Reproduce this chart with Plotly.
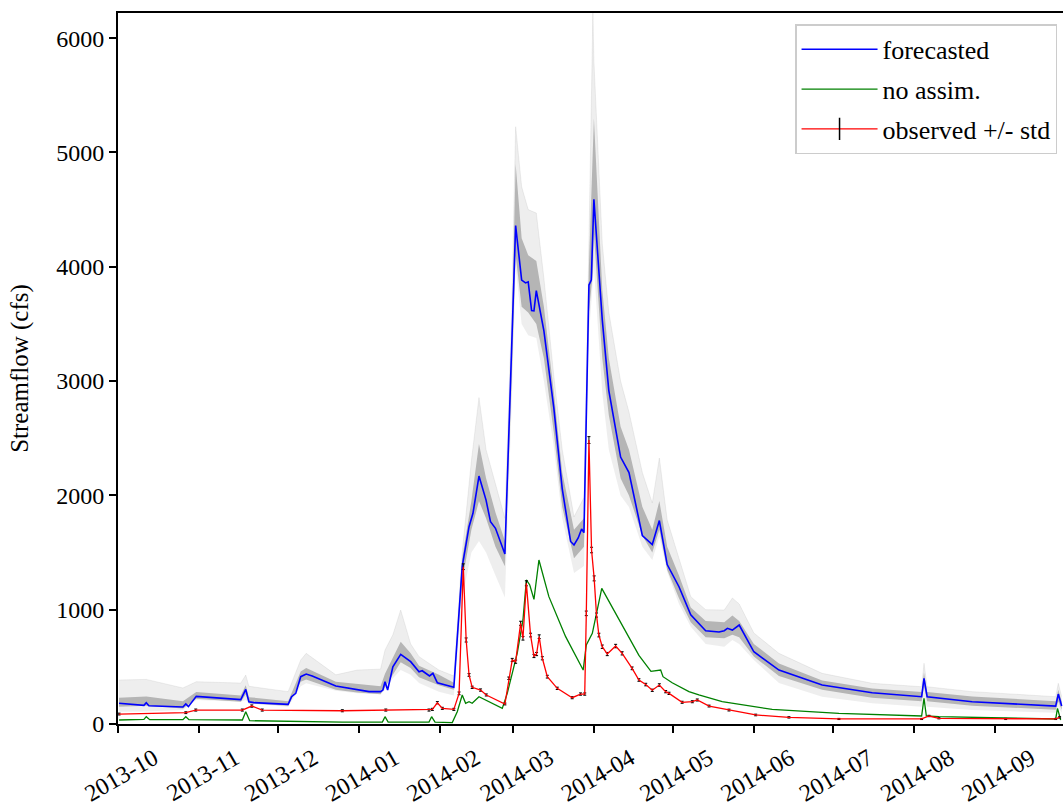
import pandas as pd
import plotly.graph_objects as go

START = pd.Timestamp("2013-10-01")

# ---- data (days after 2013-10-01, streamflow in cfs) ----
forecast_day = [0.4, 9.9, 10.8, 11.8, 24.8, 25.9, 26.9, 29.9, 46.9, 48.8, 50.0, 51.9, 65.0, 66.3, 67.9, 69.8,
                71.9, 74.2, 83.2, 91.4, 95.9, 100.3, 101.2, 102.0, 103.0, 105.0, 108.0, 111.8, 115.0, 116.2,
                117.5, 119.0, 120.3, 122.0, 128.3, 131.5, 134.1, 135.6, 137.9, 140.6, 142.3, 144.2, 147.8,
                150.4, 151.9, 154.2, 155.7, 156.7, 158.0, 158.9, 159.8, 162.7, 166.5, 169.7, 172.9, 174.2,
                175.8, 177.1, 178.0, 179.9, 180.8, 181.8, 185.0, 187.5, 192.0, 195.2, 200.3, 204.1, 206.8,
                209.8, 214.3, 218.8, 224.5, 229.6, 231.6, 232.8, 234.7, 237.3, 242.9, 252.5, 269.0, 288.1,
                307.0, 307.9, 309.1, 326.3, 358.2, 359.2, 360.5]
forecast_cfs = [181, 163, 186, 160, 149, 175, 152, 242, 213, 303, 195, 187, 172, 239, 268, 414,
                437, 420, 332, 303, 283, 283, 297, 370, 297, 501, 609, 545, 457, 466,
                443, 420, 443, 360, 321, 1380, 1726, 1843, 2169, 1959, 1770, 1712, 1487,
                3224, 4360, 3884, 3859, 3868, 3617, 3614, 3792, 3439, 2764, 2057, 1597, 1566,
                1628, 1706, 1674, 3840, 3884, 4590, 3534, 2917, 2335, 2200, 1649, 1570, 1780,
                1395, 1201, 955, 815, 805, 816, 837, 822, 866, 632, 472, 341, 274,
                239, 400, 239, 195, 157, 262, 157]

noassim_day = [0.4, 9.9, 10.8, 12.1, 24.8, 25.9, 27.1, 47.5, 48.8, 50.3, 85.7, 101.0, 102.0, 103.2, 118.8,
               119.8, 121.1, 127.7, 129.6, 131.5, 132.8, 134.1, 135.3, 137.9, 146.8, 148.7, 152.5, 154.7,
               156.0, 157.3, 158.9, 160.8, 164.6, 171.0, 176.7, 177.7, 178.9, 181.2, 184.8, 190.1, 196.4,
               199.0, 203.6, 207.3, 208.2, 211.7, 218.1, 221.9, 230.8, 249.9, 275.4, 307.0, 307.9, 308.8,
               313.6, 358.2, 358.9, 360.1]
noassim_cfs = [35, 41, 64, 38, 38, 64, 38, 35, 108, 29, 17, 17, 64, 17, 17,
               64, 17, 12, 108, 254, 181, 195, 181, 239, 137, 268, 618, 910,
               1260, 1216, 1090, 1435, 1114, 764, 516, 472, 691, 793, 1187, 968, 700,
               600, 460, 472, 414, 361, 283, 254, 195, 128, 93, 70, 225, 70,
               64, 44, 137, 35]

obs_day = [0.4, 25.9, 29.7, 47.5, 51.1, 55.1, 85.7, 102.3, 118.8, 120.1, 122.0, 123.9, 128.3, 130.3, 131.9,
           133.0, 134.1, 135.3, 138.5, 140.7, 147.8, 149.3, 150.6, 151.9, 153.8, 154.7, 156.0, 157.6, 158.9,
           159.9, 160.9, 162.1, 164.0, 167.8, 173.5, 176.7, 178.3, 178.9, 179.9, 180.9, 181.9, 182.8, 183.7,
           185.0, 186.9, 190.1, 192.6, 196.4, 199.0, 201.6, 204.1, 206.8, 209.2, 210.5, 215.5, 219.4, 221.3,
           225.8, 233.4, 243.6, 256.3, 275.4, 307.0, 309.8, 313.6, 339.1, 358.2, 359.7]
obs_cfs = [87, 99, 122, 122, 157, 122, 116, 122, 122, 128, 186, 137, 128, 268, 1376,
           735, 429, 321, 297, 254, 175, 400, 560, 545, 881, 750, 1231, 778, 595,
           612, 764, 575, 414, 312, 230, 262, 262, 968, 2484, 1522, 1274, 953, 778,
           676, 612, 682, 618, 487, 385, 345, 295, 341, 283, 268, 190, 195, 210,
           157, 122, 79, 58, 44, 44, 70, 50, 44, 44, 58]
obs_std = [8, 8, 9, 9, 10, 9, 9, 9, 9, 9, 10, 9, 9, 12, 25,
           18, 12, 10, 10, 9, 8, 11, 14, 14, 18, 16, 22, 16, 14,
           14, 16, 14, 12, 10, 9, 10, 10, 20, 30, 24, 22, 18, 16,
           15, 14, 15, 14, 12, 11, 11, 10, 11, 10, 10, 9, 9, 9,
           8, 8, 7, 6, 5, 5, 6, 5, 5, 5, 6]

# ensemble spread (gray members): outer extremes and dense core
ens_day = [0.4, 10.8, 24.8, 29.9, 46.9, 48.8, 50.0, 65.0, 69.8, 71.9, 83.2, 91.4, 100.3, 102.0, 105.0,
           108.0, 111.8, 115.0, 122.6, 128.3, 131.5, 135.0, 137.9, 140.6, 144.2, 147.8, 150.4, 151.9,
           154.2, 156.7, 159.8, 162.7, 166.5, 169.7, 174.2, 178.0, 179.9, 181.4, 181.8, 185.0, 187.5,
           192.0, 195.2, 200.3, 204.1, 206.8, 209.8, 214.3, 218.8, 224.5, 231.6, 234.7, 237.3, 242.9,
           252.5, 269.0, 288.1, 307.0, 307.9, 309.1, 326.3, 358.2, 359.2, 360.5]
ens_max = [385, 390, 315, 370, 358, 428, 330, 283, 560, 618, 430, 472, 480, 647, 780,
           997, 700, 589, 472, 420, 1500, 2300, 2856, 2400, 2100, 1800, 3600, 5225,
           4700, 4500, 4470, 3900, 3040, 2400, 1812, 1981, 4200, 6220, 5800, 4200, 3600,
           3000, 2729, 2200, 1933, 2327, 1784, 1450, 1114, 1000, 997, 1102, 1050, 796,
           618, 443, 356, 326, 531, 326, 283, 239, 356, 239]
ens_min = [108, 110, 122, 210, 195, 210, 180, 152, 330, 356, 290, 268, 260, 300, 400,
           472, 430, 358, 283, 250, 1100, 1500, 1600, 1500, 1300, 1107, 2800, 4000,
           3500, 3400, 3376, 3000, 2426, 1800, 1320, 1382, 3400, 3900, 4000, 2900, 2400,
           2000, 1898, 1550, 1435, 1638, 1332, 1050, 851, 700, 676, 735, 700, 560,
           358, 239, 181, 152, 200, 152, 122, 99, 150, 99]
ens_core_hi = [230, 240, 200, 280, 250, 340, 235, 200, 460, 490, 370, 350, 330, 440, 580,
               720, 620, 510, 430, 360, 1450, 1950, 2450, 2150, 1850, 1600, 3400, 4900,
               4250, 4100, 4050, 3650, 2900, 2200, 1700, 1800, 4000, 4900, 5300, 3800, 3200,
               2600, 2400, 1900, 1700, 1950, 1550, 1300, 1020, 900, 890, 950, 900, 700,
               530, 380, 310, 280, 450, 280, 240, 200, 300, 200]
ens_core_lo = [150, 160, 135, 220, 195, 260, 180, 160, 370, 390, 300, 275, 260, 320, 430,
               540, 490, 410, 340, 300, 1250, 1700, 1950, 1800, 1550, 1380, 3000, 4100,
               3650, 3600, 3500, 3200, 2550, 1900, 1450, 1550, 3600, 3950, 4300, 3200, 2700,
               2150, 2000, 1650, 1500, 1700, 1350, 1100, 890, 760, 750, 780, 760, 590,
               420, 300, 230, 200, 330, 200, 160, 125, 200, 125]

y_ticks = [0, 1000, 2000, 3000, 4000, 5000, 6000]


def to_dates(days):
    return [START + pd.Timedelta(days=d) for d in days]


FONT = "Liberation Serif, Times New Roman, serif"
FS = 24

fig = go.Figure()

ed = to_dates(ens_day)
fig.add_trace(go.Scatter(x=ed, y=ens_min, mode="lines", line=dict(width=0, color="rgba(0,0,0,0)"),
                         showlegend=False, hoverinfo="skip", legendgroup="ens"))
fig.add_trace(go.Scatter(x=ed, y=ens_max, mode="lines", line=dict(width=0.6, color="rgba(150,150,150,0.25)"),
                         fill="tonexty", fillcolor="rgba(150,150,150,0.16)", showlegend=False,
                         hoverinfo="skip", legendgroup="ens"))
fig.add_trace(go.Scatter(x=ed, y=ens_core_lo, mode="lines", line=dict(width=0, color="rgba(0,0,0,0)"),
                         showlegend=False, hoverinfo="skip", legendgroup="ens"))
fig.add_trace(go.Scatter(x=ed, y=ens_core_hi, mode="lines", line=dict(width=0, color="rgba(0,0,0,0)"),
                         fill="tonexty", fillcolor="rgba(110,110,110,0.45)", showlegend=False,
                         hoverinfo="skip", legendgroup="ens"))

fig.add_trace(go.Scatter(x=to_dates(forecast_day), y=forecast_cfs, mode="lines", name="forecasted",
                         line=dict(color="#0000ff", width=1.6), legendgroup="a"))
fig.add_trace(go.Scatter(x=to_dates(noassim_day), y=noassim_cfs, mode="lines", name="no assim.",
                         line=dict(color="#008000", width=1.3), legendgroup="b"))
fig.add_trace(go.Scatter(x=to_dates(obs_day), y=obs_cfs, mode="lines", name="observed +/- std",
                         line=dict(color="#ff0000", width=1.3), showlegend=False, legendgroup="c",
                         error_y=dict(type="data", array=obs_std, visible=True, color="black",
                                      thickness=1, width=1.5)))
# legend sample for the observed series (red line with black error bar)
fig.add_trace(go.Scatter(x=[None], y=[None], mode="lines+markers", name="observed +/- std",
                         legendgroup="c",
                         line=dict(color="#ff0000", width=1.3),
                         marker=dict(symbol="line-ns-open", size=20, color="black",
                                     line=dict(color="black", width=1.5))))

fig.update_layout(
    width=1063, height=808,
    margin=dict(l=118, r=0, t=13, b=84),
    paper_bgcolor="white", plot_bgcolor="white",
    font=dict(family=FONT, size=FS, color="black"),
    showlegend=True,
    legend=dict(x=0.9937, y=0.984, xanchor="right", yanchor="top", traceorder="grouped",
                tracegroupgap=3,
                bgcolor="rgba(255,255,255,0.85)", bordercolor="#cccccc", borderwidth=1.5,
                font=dict(family=FONT, size=26), itemwidth=76),
)
fig.update_xaxes(
    range=[START, START + pd.Timedelta(days=361)], automargin=False,
    tickmode="linear", tick0="2013-10-01", dtick="M1", tickformat="%Y-%m",
    tickangle=-30, ticklabelshift=36, ticklabelstandoff=2,
    ticks="outside", ticklen=7, tickwidth=2, tickcolor="black",
    showline=True, linecolor="black", linewidth=2, mirror=True,
    showgrid=False, zeroline=False, tickfont=dict(family=FONT, size=FS),
)
fig.update_yaxes(
    range=[0, 6220], tickvals=y_ticks, automargin=False,
    ticks="outside", ticklen=7, tickwidth=2, tickcolor="black",
    showline=True, linecolor="black", linewidth=2, showgrid=False, zeroline=False,
    title=dict(text="Streamflow (cfs)", font=dict(family=FONT, size=25), standoff=20),
    tickfont=dict(family=FONT, size=FS),
)

# remove the default page margin so the figure sits at the window's top-left corner
fig.write_html("out.html",
               config={"displayModeBar": False},
               post_script="document.body.style.margin='0';"
                           "document.documentElement.style.overflow='hidden';")
